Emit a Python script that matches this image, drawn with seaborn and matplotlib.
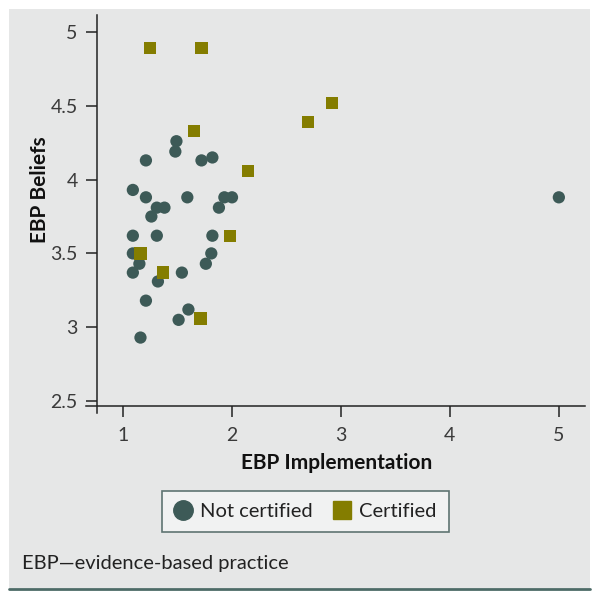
import pandas as pd
import matplotlib.pyplot as plt
from matplotlib.lines import Line2D
from matplotlib.patches import Rectangle
import seaborn as sb

# data
not_cert_x = [1.49, 1.48, 1.21, 1.72, 1.82, 1.09, 1.21, 1.31, 1.38, 1.59,
              1.93, 2.00, 1.88, 1.26, 1.09, 1.31, 1.82, 1.09, 1.15, 1.81,
              1.76, 1.09, 1.54, 1.32, 1.21, 1.60, 1.51, 1.16, 5.00]
not_cert_y = [4.26, 4.19, 4.13, 4.13, 4.15, 3.93, 3.88, 3.81, 3.81, 3.88,
              3.88, 3.88, 3.81, 3.75, 3.62, 3.62, 3.62, 3.50, 3.43, 3.50,
              3.43, 3.37, 3.37, 3.31, 3.18, 3.12, 3.05, 2.93, 3.88]
cert_x = [1.25, 1.72, 1.65, 2.15, 2.92, 2.70, 1.98, 1.16, 1.37, 1.71]
cert_y = [4.89, 4.89, 4.33, 4.06, 4.52, 4.39, 3.62, 3.50, 3.37, 3.06]
groups = ['Not certified', 'Certified']
colors = ['#3d5a57', '#847d00']

df = pd.DataFrame({
    'impl': not_cert_x + cert_x,
    'beliefs': not_cert_y + cert_y,
    'group': [groups[0]] * len(not_cert_x) + [groups[1]] * len(cert_x),
})

sb.set_style('white')
plt.rcParams['font.family'] = ['Lato', 'DejaVu Sans']

fig = plt.figure(figsize=(6, 5.99), dpi=100, facecolor='white')
# grey panel and bottom rule
fig.patches.append(Rectangle((9 / 600, 1 - 588 / 599), 581 / 600, 579 / 599,
                             transform=fig.transFigure, facecolor='#e6e7e7',
                             edgecolor='none', zorder=-10))
fig.add_artist(Line2D([9 / 600, 590 / 600], [1 - 588.5 / 599] * 2,
                      transform=fig.transFigure, color='#4d6b67', lw=2))

ax = fig.add_axes([86 / 600, 1 - 413 / 599, 499 / 600, 398 / 599])
ax.set_facecolor('none')

sb.scatterplot(data=df, x='impl', y='beliefs', hue='group', style='group',
               hue_order=groups, style_order=groups,
               palette=colors, markers=['o', 's'], s=78, linewidth=0,
               legend=False, ax=ax)

ax.set_xlim(0.66, 5.24)
ax.set_ylim(2.419, 5.115)
ax.set_xticks([1, 2, 3, 4, 5])
ax.set_yticks([2.5, 3, 3.5, 4, 4.5, 5])
ax.set_xticklabels(['1', '2', '3', '4', '5'])
ax.set_yticklabels(['2.5', '3', '3.5', '4', '4.5', '5'])
ax.spines['top'].set_visible(False)
ax.spines['right'].set_visible(False)
ax.spines['left'].set_position(('data', 0.761))
ax.spines['bottom'].set_position(('data', 2.466))
for sp in ['left', 'bottom']:
    ax.spines[sp].set_color('#222222')
    ax.spines[sp].set_linewidth(1.1)
ax.tick_params(axis='both', direction='out', length=8, width=1.1,
               color='#222222', labelsize=14, labelcolor='#3a3a3a', pad=6)
ax.tick_params(axis='x', bottom=True, pad=7)
ax.tick_params(axis='y', left=True)

ax.set_xlabel('')
ax.set_ylabel('')
fig.text(337 / 600, 1 - 463 / 599, 'EBP Implementation', ha='center', va='center',
         fontsize=15, fontweight='bold', color='#111111')
fig.text(40 / 600, 1 - 190 / 599, 'EBP Beliefs', ha='center', va='center',
         rotation=90, fontsize=15, fontweight='bold', color='#111111')

handles = [Line2D([], [], marker='o', ls='', color=colors[0], markersize=14),
           Line2D([], [], marker='s', ls='', color=colors[1], markersize=13.5)]
leg = fig.legend(handles, groups, loc='center',
                 bbox_to_anchor=(305.5 / 600, 1 - 511.5 / 599), ncol=2,
                 frameon=True, fancybox=False, fontsize=14.5,
                 handlelength=0.9, handletextpad=0.4, columnspacing=1.0,
                 borderpad=0.6, labelcolor='#222222')
leg.get_frame().set_edgecolor('#5f7472')
leg.get_frame().set_facecolor('#f1f2f2')
leg.get_frame().set_linewidth(1.2)
leg.get_frame().set_alpha(1)

fig.text(22 / 600, 1 - 563 / 599, 'EBP\u2014evidence-based practice', ha='left',
         va='center', fontsize=14.5, color='#222222')

plt.savefig('out.png', dpi=100, facecolor='white')
